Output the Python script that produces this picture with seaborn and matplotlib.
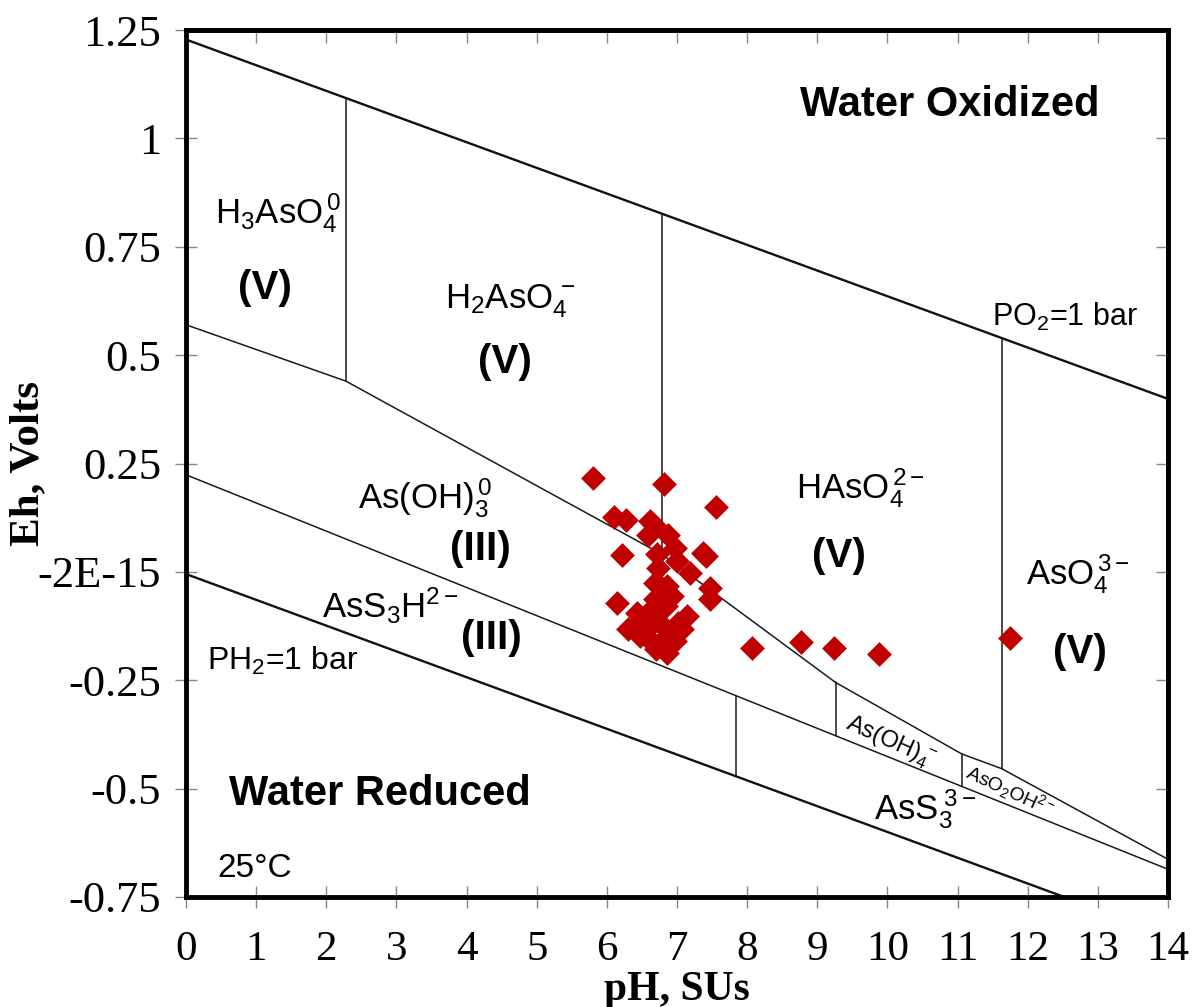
import numpy as np
import pandas as pd
import matplotlib
matplotlib.use("Agg")
import matplotlib.pyplot as plt
import seaborn as sns

# ---------------- data ----------------
sample_ph = [5.80, 6.81, 7.56, 6.10, 6.27, 6.62, 6.69, 6.58, 6.87, 6.97,
             6.71, 7.00, 7.41, 7.37, 6.22, 6.73, 7.19, 6.76, 6.86, 6.93,
             6.69, 7.47, 7.47, 6.14, 6.43, 6.64, 7.14, 7.01, 6.76, 6.30,
             6.47, 6.90, 6.66, 6.86, 6.57, 6.79, 6.97, 6.54, 8.07, 8.77,
             9.24, 9.88, 11.75, 6.70, 6.41, 7.07, 6.69, 6.84]
sample_eh = [0.217, 0.203, 0.150, 0.127, 0.120, 0.118, 0.106, 0.085, 0.085, 0.055,
             0.042, 0.025, 0.037, 0.044, 0.039, 0.009, -0.002, -0.032, -0.032, -0.055,
             -0.025, -0.037, -0.062, -0.071, -0.095, -0.085, -0.101, -0.118, -0.118, -0.131,
             -0.148, -0.143, -0.164, -0.187, -0.131, -0.159, -0.159, -0.101, -0.175, -0.161,
             -0.175, -0.189, -0.152, -0.178, -0.125, -0.131, -0.062, -0.078]

# water stability limits
o2_ph = [0.0, 14.0]
o2_eh = [1.228, 0.399]
h2_ph = [0.0, 14.0]
h2_eh = [-0.005, -0.838]

# As(V)/As(III) boundary
redox_ph = [0.0, 2.28, 6.79, 9.26, 11.06, 11.63, 14.0]
redox_eh = [0.570, 0.440, 0.040, -0.255, -0.420, -0.454, -0.663]

# As(III) oxide / sulfide boundary
sulf_ph = [0.0, 14.0]
sulf_eh = [0.224, -0.686]

# vertical boundaries: pH, Eh top, Eh bottom
vert_ph = [2.28, 6.79, 11.63, 7.84, 9.26, 11.06]
vert_top = [1.093, 0.826, 0.539, -0.286, -0.255, -0.420]
vert_bot = [0.440, 0.040, -0.454, -0.471, -0.378, -0.495]

ytick_vals = [-0.75, -0.5, -0.25, 0.0, 0.25, 0.5, 0.75, 1.0, 1.25]
ytick_labels = ["-0.75", "-0.5", "-0.25", "-2E-15", "0.25", "0.5", "0.75", "1", "1.25"]
xtick_vals = list(range(0, 15))

# ---------------- style ----------------
sns.set_theme(style="white")
plt.rcParams["font.family"] = ["Liberation Sans", "DejaVu Sans"]
plt.rcParams["mathtext.fontset"] = "custom"
plt.rcParams["mathtext.rm"] = "Liberation Sans"
plt.rcParams["mathtext.it"] = "Liberation Sans:italic"
plt.rcParams["mathtext.bf"] = "Liberation Sans:bold"
plt.rcParams["text.color"] = "black"
plt.rcParams["axes.labelcolor"] = "black"
plt.rcParams["xtick.labelcolor"] = "black"
plt.rcParams["ytick.labelcolor"] = "black"

fig = plt.figure(figsize=(11.92, 10.07), dpi=100)
ax = fig.add_axes([186 / 1192, 1 - 897 / 1007, (1168 - 186) / 1192, (897 - 30) / 1007])

line_kw = dict(color="#1a1a1a", lw=1.1, zorder=2)
ax.plot(o2_ph, o2_eh, color="#111111", lw=1.7, zorder=2)
ax.plot(h2_ph, h2_eh, color="#111111", lw=1.7, zorder=2)
ax.plot(redox_ph, redox_eh, **line_kw)
ax.plot(sulf_ph, sulf_eh, **line_kw)
for p, t, b in zip(vert_ph, vert_top, vert_bot):
    ax.plot([p, p], [t, b], **line_kw)

df = pd.DataFrame({"pH": sample_ph, "Eh": sample_eh})
sns.scatterplot(data=df, x="pH", y="Eh", marker="D", s=160, color="#C00000",
                edgecolor="#C00000", linewidth=0, ax=ax, zorder=5)

ax.set_xlim(0, 14)
ax.set_ylim(-0.75, 1.25)
ax.set_xticks(xtick_vals)
ax.set_xticklabels([str(v) for v in xtick_vals])
ax.set_yticks(ytick_vals)
ax.set_yticklabels(ytick_labels)

serif = ["Liberation Serif", "DejaVu Serif"]
for lab in ax.get_xticklabels():
    lab.set_fontfamily(serif)
    lab.set_fontsize(31)
    lab.set_color("black")
for lab in ax.get_yticklabels():
    lab.set_fontfamily(serif)
    lab.set_fontsize(32)
    lab.set_color("black")

ax.tick_params(axis="both", which="major", direction="inout", length=16, width=1,
               color="#888888", labelcolor="black",
               bottom=True, left=True, top=False, right=False)
ax.tick_params(axis="x", pad=16)
ax.tick_params(axis="y", pad=10)
for s in ax.spines.values():
    s.set_visible(True)
    s.set_color("black")
    s.set_linewidth(3.5)

# inward ticks on the top and right frame
sec_x = ax.secondary_xaxis("top")
sec_x.set_xticks(xtick_vals)
sec_x.tick_params(direction="in", length=9, width=1, color="#888888", labeltop=False)
sec_x.spines["top"].set_linewidth(3.5)
sec_y = ax.secondary_yaxis("right")
sec_y.set_yticks(ytick_vals)
sec_y.tick_params(direction="in", length=9, width=1, color="#888888", labelright=False)
sec_y.spines["right"].set_linewidth(3.5)

ax.set_xlabel("pH, SUs", fontfamily=serif, fontweight="bold", fontsize=30, color="black")
ax.set_ylabel("Eh, Volts", fontfamily=serif, fontweight="bold", fontsize=31, color="black")
ax.xaxis.set_label_coords(0.5, -0.085)
ax.yaxis.set_label_coords(-0.141, 0.5)

# ---------------- annotations ----------------
def t(x, y, s, size, bold=False, rot=0):
    ax.text(x, y, s, fontsize=size, fontweight="bold" if bold else "normal",
            ha="center", va="center", rotation=rot, rotation_mode="anchor",
            color="black", zorder=6)

t(10.89, 1.077, "Water Oxidized", 30, bold=True)
t(2.77, -0.512, "Water Reduced", 30, bold=True)

t(1.31, 0.828, r"$\mathregular{H_3AsO_4^{\,0}}$", 25)
t(1.13, 0.655, "(V)", 29, bold=True)
t(4.62, 0.625, r"$\mathregular{H_2AsO_4^{\,-}}$", 25)
t(4.55, 0.485, "(V)", 29, bold=True)
t(9.61, 0.194, r"$\mathregular{HAsO_4^{\,2-}}$", 25)
t(9.31, 0.037, "(V)", 29, bold=True)
t(12.72, -0.005, r"$\mathregular{AsO_4^{\,3-}}$", 25)
t(12.75, -0.185, "(V)", 29, bold=True)
t(3.41, 0.171, r"$\mathregular{As(OH)_3^{\,0}}$", 25)
t(4.19, 0.053, "(III)", 29, bold=True)
t(2.91, -0.078, r"$\mathregular{AsS_3H^{2-}}$", 25)
t(4.36, -0.152, "(III)", 29, bold=True)
t(12.53, 0.588, r"$\mathregular{PO_2}$=1 bar", 22)
t(1.37, -0.205, r"$\mathregular{PH_2}$=1 bar", 23)
t(10.54, -0.547, r"$\mathregular{AsS_3^{\;3-}}$", 25)
t(10.04, -0.395, r"$\mathregular{As(OH)_4^{\,-}}$", 17, rot=-24)
t(11.75, -0.505, r"$\mathregular{AsO_2OH^{2-}}$", 14, rot=-25)
t(0.98, -0.685, "25°C", 24)

fig.savefig("out.png", dpi=100)
